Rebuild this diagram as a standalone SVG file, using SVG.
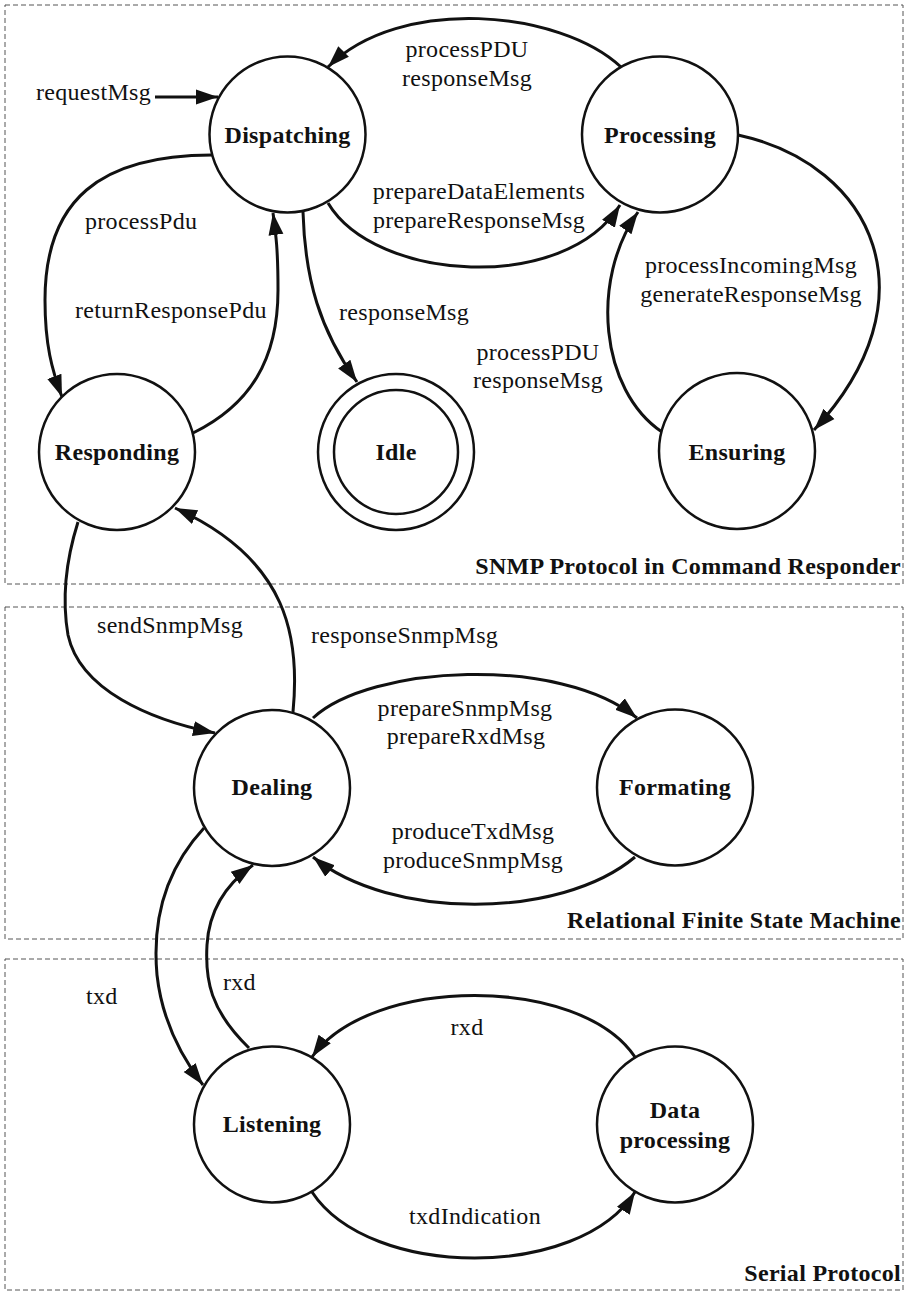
<svg xmlns="http://www.w3.org/2000/svg" width="905" height="1292" viewBox="0 0 905 1292">
<style>
.panel{fill:none;stroke:#555;stroke-width:1;stroke-dasharray:5,3}
.node{fill:#fff;stroke:#111;stroke-width:2.5}
text{font-family:'Liberation Serif','Times New Roman',Tinos,'DejaVu Serif',serif;font-size:24px;fill:#111;letter-spacing:0.3px}
.nl{font-weight:bold;text-anchor:middle}
.title{font-weight:bold;text-anchor:end}
.c{text-anchor:middle}
.edge{fill:none;stroke:#111;stroke-width:3;marker-end:url(#arr)}
</style>
<defs>
<marker id="arr" markerUnits="userSpaceOnUse" markerWidth="24" markerHeight="18" viewBox="0 0 24 18" refX="22" refY="9" orient="auto">
<path d="M0,1.5 L22,9 L0,16.5 Z" fill="#111"/>
</marker>
</defs>
<rect class="panel" x="5" y="5" width="898" height="579"/>
<rect class="panel" x="5" y="607" width="898" height="332"/>
<rect class="panel" x="5" y="959" width="898" height="331"/>
<text class="title" x="901" y="574">SNMP Protocol in Command Responder</text>
<text class="title" x="901" y="928">Relational Finite State Machine</text>
<text class="title" x="901" y="1281">Serial Protocol</text>
<g id="connectors">
<path class="edge" d="M155,97 L218,97"/>
<path class="edge" d="M621,67 C560,10 400,-5 328,67"/>
<path class="edge" d="M328,203 C375,282 565,294 620,205"/>
<path class="edge" d="M662,432 C600,390 590,280 638,212"/>
<path class="edge" d="M738,135 C875,165 935,300 814,430"/>
<path class="edge" d="M212,155 C100,155 45,200 45,300 C45,345 52,370 62,397"/>
<path class="edge" d="M193,433 C250,405 278,360 278,290 C278,250 276,235 273,213"/>
<path class="edge" d="M303,212 C305,280 320,330 357,382"/>
<path class="edge" d="M78,522 C66,560 62,600 68,635 C80,690 150,720 215,733"/>
<path class="edge" d="M293,712 C300,640 290,560 175,508"/>
<path class="edge" d="M313,718 C370,665 560,655 637,718"/>
<path class="edge" d="M635,857 C560,920 390,920 313,857"/>
<path class="edge" d="M204,828 C165,870 152,920 157,975 C162,1020 180,1055 203,1085"/>
<path class="edge" d="M249,1048 C210,1010 205,980 207,945 C209,910 225,885 253,865"/>
<path class="edge" d="M635,1057 C580,975 370,975 312,1057"/>
<path class="edge" d="M312,1192 C370,1280 580,1280 635,1192"/>
</g>
<g id="edge-labels">
<text x="36" y="100">requestMsg</text>
<text class="c" x="467" y="57">processPDU</text>
<text class="c" x="467" y="86">responseMsg</text>
<text class="c" x="479" y="199">prepareDataElements</text>
<text class="c" x="479" y="228">prepareResponseMsg</text>
<text class="c" x="751" y="273">processIncomingMsg</text>
<text class="c" x="751" y="302">generateResponseMsg</text>
<text x="85" y="229">processPdu</text>
<text x="75" y="318">returnResponsePdu</text>
<text x="339" y="320">responseMsg</text>
<text class="c" x="538" y="360">processPDU</text>
<text class="c" x="538" y="388">responseMsg</text>
<text x="97" y="633">sendSnmpMsg</text>
<text x="311" y="643">responseSnmpMsg</text>
<text class="c" x="465" y="716">prepareSnmpMsg</text>
<text class="c" x="466" y="744">prepareRxdMsg</text>
<text class="c" x="473" y="839">produceTxdMsg</text>
<text class="c" x="473" y="868">produceSnmpMsg</text>
<text x="86" y="1004">txd</text>
<text x="223" y="990">rxd</text>
<text class="c" x="467" y="1035">rxd</text>
<text class="c" x="475" y="1224">txdIndication</text>
</g>
<g id="Dispatching"><circle class="node" cx="287.5" cy="134.5" r="78"/><text class="nl" x="287.5" y="143">Dispatching</text></g>
<g id="Processing"><circle class="node" cx="660" cy="134.5" r="78"/><text class="nl" x="660" y="143">Processing</text></g>
<g id="Responding"><circle class="node" cx="117" cy="452" r="78"/><text class="nl" x="117" y="460">Responding</text></g>
<g id="Idle"><circle class="node" cx="396" cy="452" r="78"/><circle class="node" cx="396" cy="452" r="62"/><text class="nl" x="396" y="460">Idle</text></g>
<g id="Ensuring"><circle class="node" cx="737" cy="451" r="78"/><text class="nl" x="737" y="460">Ensuring</text></g>
<g id="Dealing"><circle class="node" cx="272" cy="788" r="78"/><text class="nl" x="272" y="795">Dealing</text></g>
<g id="Formating"><circle class="node" cx="675" cy="787.5" r="78"/><text class="nl" x="675" y="795">Formating</text></g>
<g id="Listening"><circle class="node" cx="272" cy="1124.5" r="78"/><text class="nl" x="272" y="1132">Listening</text></g>
<g id="DataProcessing"><circle class="node" cx="675" cy="1124.5" r="78"/><text class="nl" x="675" y="1118">Data</text><text class="nl" x="675" y="1148">processing</text></g>
</svg>
